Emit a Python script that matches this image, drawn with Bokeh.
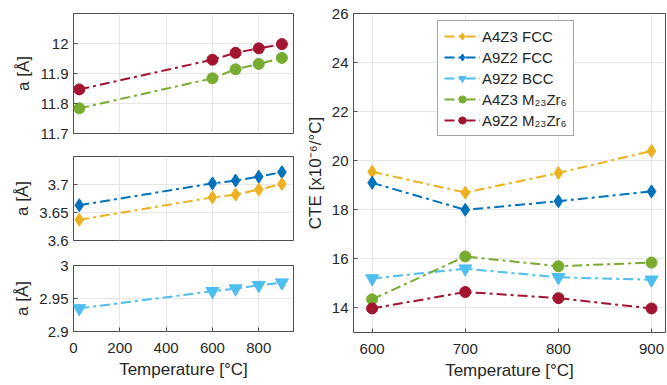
from bokeh.plotting import figure
from bokeh.layouts import row, column
from bokeh.models import (Range1d, FixedTicker, CustomJSTickFormatter, Legend, LegendItem)
from bokeh.embed import file_html
from bokeh.resources import INLINE

# Lattice parameters vs temperature
temps_lattice = [25, 600, 700, 800, 900]
a_A9Z2_M23 = [11.847, 11.946, 11.969, 11.984, 11.998]
a_A4Z3_M23 = [11.784, 11.884, 11.914, 11.932, 11.952]
a_A9Z2_FCC = [3.663, 3.702, 3.707, 3.714, 3.722]
a_A4Z3_FCC = [3.637, 3.677, 3.682, 3.691, 3.701]
a_A9Z2_BCC = [2.935, 2.961, 2.965, 2.970, 2.974]

# Coefficient of thermal expansion
cte_temps = [600, 700, 800, 900]
cte_A4Z3_FCC = [19.55, 18.70, 19.50, 20.40]
cte_A9Z2_FCC = [19.10, 18.00, 18.35, 18.75]
cte_A9Z2_BCC = [15.20, 15.60, 15.25, 15.15]
cte_A4Z3_M23 = [14.35, 16.10, 15.70, 15.85]
cte_A9Z2_M23 = [13.98, 14.65, 14.40, 13.98]

series_labels = ["A4Z3 FCC", "A9Z2 FCC", "A9Z2 BCC", "A4Z3 M₂₃Zr₆", "A9Z2 M₂₃Zr₆"]

ORANGE = "#EDB120"
BLUE = "#0072BD"
CYAN = "#4DBEEE"
GREEN = "#77AC30"
RED = "#A2142F"

FONT = "Liberation Sans"
DASH = "10 4 3 4"
TICK_FS = "15px"
LABEL_FS = "17px"
INK = "#262626"
FRAME = "#4d4d4d"

fmt = CustomJSTickFormatter(code="return (+tick.toFixed(3)).toString();")


def style(p, xticks, yticks, show_x_axis):
    p.background_fill_color = "white"
    p.border_fill_color = "white"
    p.outline_line_color = FRAME
    p.outline_line_width = 1
    p.xaxis.ticker = FixedTicker(ticks=xticks)
    p.yaxis.ticker = FixedTicker(ticks=yticks)
    p.yaxis.formatter = fmt
    for ax in (p.xaxis[0], p.yaxis[0]):
        ax.axis_line_color = None
        ax.major_tick_in = 4
        ax.major_tick_out = 0
        ax.minor_tick_line_color = None
        ax.major_tick_line_color = FRAME
        ax.major_label_text_font = FONT
        ax.major_label_text_font_size = TICK_FS
        ax.major_label_text_color = INK
        ax.axis_label_text_font = FONT
        ax.axis_label_text_font_size = LABEL_FS
        ax.axis_label_text_font_style = "normal"
        ax.axis_label_text_color = INK
    p.yaxis.major_label_standoff = 5
    p.yaxis.axis_label_standoff = 4
    p.xaxis.major_label_standoff = 11
    p.xaxis.axis_label_standoff = 4
    if not show_x_axis:
        # shared temperature axis is labelled only on the lowest panel
        p.xaxis.visible = False
    p.grid.grid_line_color = "#e6e6e6"
    p.grid.grid_line_width = 1


def series(p, x, y, color, marker, size):
    lr = p.line(x, y, line_color=color, line_width=2, line_dash=DASH)
    sr = p.scatter(x, y, marker=marker, size=size, fill_color=color, line_color=color)
    return [lr, sr]


LEFT_W = 300
common = dict(output_backend="svg", toolbar_location=None, tools="")

# top-left: M23Zr6 lattice parameter
p1 = figure(width=LEFT_W, height=145, x_range=Range1d(0, 950), y_range=Range1d(11.7, 12.1), **common)
p1.min_border_left, p1.min_border_right, p1.min_border_top, p1.min_border_bottom = 73, 7, 13, 12
style(p1, [0, 200, 400, 600, 800], [11.7, 11.8, 11.9, 12.0], False)
p1.yaxis.axis_label = "a [Å]"
series(p1, temps_lattice, a_A9Z2_M23, RED, "circle", 11)
series(p1, temps_lattice, a_A4Z3_M23, GREEN, "circle", 11)

# middle-left: FCC lattice parameter
p2 = figure(width=LEFT_W, height=105, x_range=Range1d(0, 950), y_range=Range1d(3.6, 3.75), **common)
p2.min_border_left, p2.min_border_right, p2.min_border_top, p2.min_border_bottom = 73, 7, 11, 10
style(p2, [0, 200, 400, 600, 800], [3.6, 3.65, 3.7], False)
p2.yaxis.axis_label = "a [Å]"
series(p2, temps_lattice, a_A9Z2_FCC, BLUE, "diamond", 13)
series(p2, temps_lattice, a_A4Z3_FCC, ORANGE, "diamond", 13)

# bottom-left: BCC lattice parameter
p3 = figure(width=LEFT_W, height=135, x_range=Range1d(0, 950), y_range=Range1d(2.9, 3.0), **common)
p3.min_border_left, p3.min_border_right, p3.min_border_top, p3.min_border_bottom = 73, 7, 15, 54
style(p3, [0, 200, 400, 600, 800], [2.9, 2.95, 3.0], True)
p3.yaxis.axis_label = "a [Å]"
p3.xaxis.axis_label = "Temperature [°C]"
series(p3, temps_lattice, a_A9Z2_BCC, CYAN, "inverted_triangle", 13)

# right: CTE
p4 = figure(width=367, height=385, x_range=Range1d(580, 915), y_range=Range1d(13, 26), **common)
p4.min_border_left, p4.min_border_right, p4.min_border_top, p4.min_border_bottom = 53, 2, 13, 53
style(p4, [600, 700, 800, 900], [14, 16, 18, 20, 22, 24, 26], True)
p4.yaxis.axis_label = "CTE [x10⁻⁶/°C]"
p4.xaxis.axis_label = "Temperature [°C]"

cte_series = [
    (cte_A4Z3_FCC, ORANGE, "diamond", 13),
    (cte_A9Z2_FCC, BLUE, "diamond", 13),
    (cte_A9Z2_BCC, CYAN, "inverted_triangle", 13),
    (cte_A4Z3_M23, GREEN, "circle", 11),
    (cte_A9Z2_M23, RED, "circle", 11),
]
items = []
for label, (vals, color, marker, size) in zip(series_labels, cte_series):
    rs = series(p4, cte_temps, vals, color, marker, size)
    items.append(LegendItem(label=label, renderers=rs))

legend = Legend(items=items, location=(84, 196))
legend.label_text_font = FONT
legend.label_text_font_size = "15px"
legend.label_text_color = INK
legend.glyph_width = 36
legend.glyph_height = 18
legend.label_standoff = 2
legend.spacing = 3
legend.padding = 6
legend.margin = 0
legend.border_line_color = FRAME
legend.border_line_width = 1
legend.background_fill_color = "white"
legend.background_fill_alpha = 1.0
p4.add_layout(legend, "center")

layout = row(column(p1, p2, p3), p4)

open("out.html", "w").write(file_html(layout, INLINE))
